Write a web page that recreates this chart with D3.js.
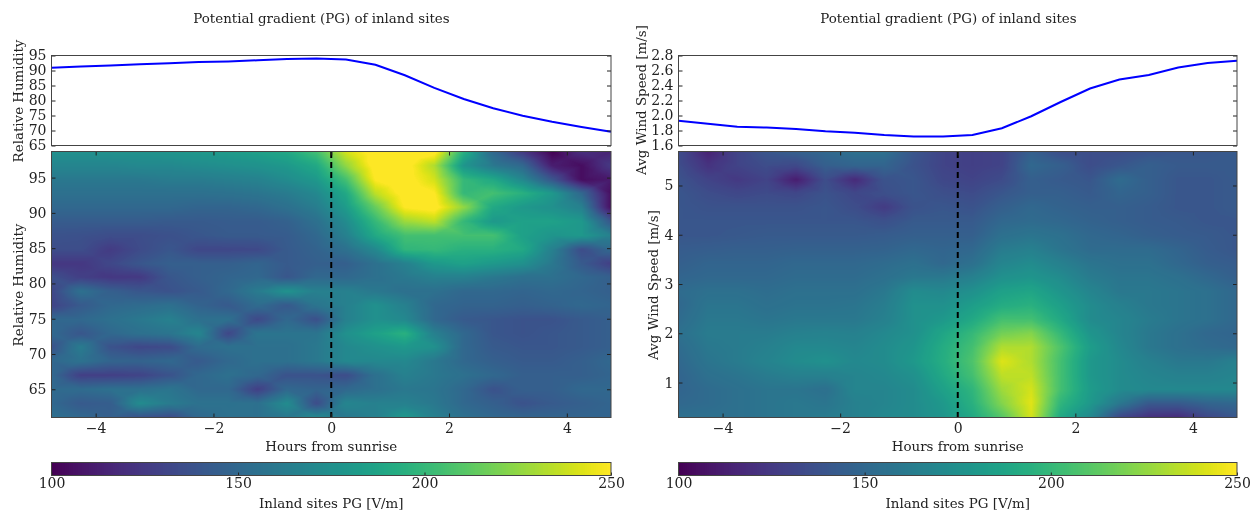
<!DOCTYPE html>
<html>
<head>
<meta charset="utf-8">
<script src="https://cdn.jsdelivr.net/npm/d3@7"></script>
<style>
  body { margin: 0; background: #fff; }
  #chart { position: relative; width: 1256px; height: 512px; }
  canvas, svg { position: absolute; left: 0; top: 0; }
  canvas { filter: blur(0.7px); }
  text { font-family: "DejaVu Serif", serif; fill: #222; }
  .tick text { font-size: 14px; }
  .label { font-size: 13.4px; }
</style>
</head>
<body>
<div id="chart"></div>
<script>
const hours = [-4.75, -4.25, -3.75, -3.25, -2.75, -2.25, -1.75, -1.25, -0.75, -0.25, 0.25, 0.75, 1.25, 1.75, 2.25, 2.75, 3.25, 3.75, 4.25, 4.75];

const rhLine = [90.9, 91.3, 91.7, 92.1, 92.4, 92.8, 93.0, 93.4, 93.8, 94.0, 93.7, 91.9, 88.4, 84.2, 80.5, 77.4, 74.9, 72.9, 71.2, 69.6];
const windLine = [1.93, 1.89, 1.85, 1.84, 1.82, 1.79, 1.77, 1.74, 1.72, 1.72, 1.74, 1.83, 1.99, 2.18, 2.36, 2.48, 2.54, 2.64, 2.70, 2.73];

const rhLevels = [98.7, 96.7, 94.7, 92.8, 90.8, 88.8, 86.8, 84.8, 82.8, 80.9, 78.9, 76.9, 74.9, 72.9, 71.0, 69.0, 67.0, 65.0, 63.0, 61.0];
const windLevels = [5.69, 5.41, 5.12, 4.84, 4.56, 4.27, 3.99, 3.70, 3.42, 3.14, 2.85, 2.57, 2.28, 2.00, 1.72, 1.43, 1.15, 0.86, 0.58, 0.29];

const rhGrid = [
  [175, 175, 176, 176, 178, 180, 182, 185, 190, 205, 240, 255, 255, 255, 195, 150, 125, 100, 120, 115],
  [168, 168, 168, 170, 170, 172, 174, 176, 180, 190, 225, 255, 255, 232, 178, 160, 150, 112, 105, 125],
  [160, 160, 160, 160, 162, 162, 164, 166, 172, 180, 205, 250, 255, 240, 200, 190, 170, 140, 105, 110],
  [155, 155, 155, 155, 155, 155, 156, 158, 162, 170, 190, 235, 255, 250, 200, 205, 195, 180, 150, 105],
  [150, 150, 150, 150, 150, 148, 148, 150, 155, 163, 182, 215, 250, 255, 225, 190, 180, 175, 165, 105],
  [143, 143, 143, 143, 142, 142, 143, 143, 146, 155, 172, 200, 228, 235, 200, 180, 185, 185, 180, 140],
  [138, 137, 135, 135, 137, 140, 142, 142, 143, 150, 165, 190, 205, 205, 205, 205, 185, 178, 180, 165],
  [135, 135, 126, 134, 140, 132, 132, 133, 142, 147, 155, 170, 198, 200, 195, 195, 190, 165, 135, 150],
  [124, 124, 132, 140, 145, 145, 145, 148, 142, 145, 145, 155, 165, 180, 185, 180, 175, 160, 142, 128],
  [136, 128, 124, 125, 140, 145, 148, 150, 140, 150, 150, 155, 160, 165, 165, 160, 155, 155, 150, 145],
  [132, 155, 145, 140, 138, 142, 150, 162, 176, 165, 165, 160, 155, 155, 150, 150, 148, 150, 148, 145],
  [130, 142, 150, 152, 155, 147, 142, 152, 142, 158, 165, 175, 165, 150, 147, 147, 145, 147, 150, 148],
  [150, 150, 155, 160, 165, 155, 155, 133, 150, 137, 165, 175, 170, 150, 142, 140, 138, 138, 142, 145],
  [150, 140, 150, 155, 158, 168, 132, 158, 158, 158, 175, 185, 195, 165, 150, 140, 138, 140, 142, 145],
  [138, 162, 138, 132, 134, 152, 155, 155, 155, 160, 170, 175, 180, 175, 150, 142, 140, 140, 142, 145],
  [150, 156, 148, 147, 150, 142, 150, 155, 155, 160, 170, 170, 170, 160, 150, 145, 142, 142, 145, 150],
  [150, 128, 128, 130, 138, 150, 155, 150, 138, 138, 135, 155, 165, 160, 155, 150, 145, 145, 145, 148],
  [152, 152, 155, 155, 158, 150, 150, 128, 150, 147, 150, 155, 160, 158, 150, 138, 145, 145, 150, 150],
  [150, 142, 144, 172, 162, 156, 156, 155, 172, 135, 168, 165, 165, 160, 150, 145, 138, 142, 145, 148],
  [155, 150, 145, 138, 134, 150, 155, 155, 160, 170, 160, 165, 180, 165, 155, 150, 148, 148, 148, 148]
];

const windGrid = [
  [135, 114, 130, 140, 145, 150, 155, 155, 140, 130, 128, 130, 145, 135, 135, 135, 138, 140, 140, 142],
  [135, 122, 130, 135, 133, 145, 148, 148, 138, 130, 128, 130, 150, 145, 135, 140, 145, 142, 142, 142],
  [138, 130, 125, 130, 112, 135, 118, 138, 140, 132, 130, 134, 145, 142, 140, 152, 145, 140, 140, 142],
  [140, 135, 132, 134, 132, 138, 132, 136, 140, 136, 134, 140, 145, 145, 142, 148, 145, 140, 140, 142],
  [140, 138, 138, 138, 138, 140, 135, 126, 138, 140, 138, 145, 150, 147, 145, 145, 143, 140, 140, 142],
  [140, 140, 140, 140, 140, 140, 140, 137, 142, 142, 142, 150, 152, 150, 147, 145, 143, 142, 140, 140],
  [140, 140, 141, 142, 142, 142, 142, 143, 145, 145, 145, 155, 158, 155, 150, 148, 145, 143, 142, 140],
  [143, 144, 145, 145, 146, 146, 146, 147, 150, 148, 150, 162, 165, 158, 152, 152, 152, 148, 143, 140],
  [145, 148, 148, 148, 150, 150, 150, 152, 155, 150, 155, 168, 172, 165, 158, 155, 155, 150, 145, 143],
  [148, 150, 150, 150, 152, 152, 152, 155, 160, 160, 165, 175, 178, 172, 162, 158, 158, 155, 150, 145],
  [152, 155, 155, 153, 155, 155, 155, 160, 172, 170, 175, 185, 188, 178, 168, 160, 160, 158, 155, 150],
  [150, 158, 158, 155, 157, 157, 158, 163, 175, 175, 183, 192, 195, 184, 172, 165, 160, 158, 155, 150],
  [152, 160, 160, 158, 160, 160, 160, 165, 175, 180, 190, 205, 205, 190, 172, 168, 162, 158, 155, 150],
  [155, 162, 162, 162, 165, 166, 165, 170, 175, 188, 200, 218, 222, 200, 178, 168, 160, 155, 150, 148],
  [152, 160, 162, 165, 170, 170, 168, 172, 178, 192, 205, 232, 232, 208, 183, 170, 160, 155, 152, 150],
  [150, 158, 162, 167, 172, 175, 170, 172, 180, 193, 208, 242, 232, 205, 180, 172, 165, 160, 160, 165],
  [148, 155, 158, 162, 165, 165, 168, 170, 175, 190, 205, 235, 235, 205, 180, 172, 168, 165, 165, 168],
  [148, 152, 155, 158, 158, 155, 168, 168, 172, 185, 198, 228, 240, 205, 182, 172, 170, 170, 170, 170],
  [150, 152, 155, 158, 160, 158, 165, 168, 172, 180, 195, 222, 243, 198, 180, 160, 142, 142, 148, 150],
  [155, 155, 155, 158, 160, 162, 165, 170, 172, 178, 190, 210, 240, 190, 170, 132, 120, 118, 132, 140]
];

const rhTicksTop = [65, 70, 75, 80, 85, 90, 95];
const rhTicksMain = [65, 70, 75, 80, 85, 90, 95];
const windTicksTop = [1.6, 1.8, 2.0, 2.2, 2.4, 2.6, 2.8];
const windTicksMain = [1, 2, 3, 4, 5];
const hourTicks = [-4, -2, 0, 2, 4];
const cbarTicks = [100, 150, 200, 250];

const W = 1256, H = 512;
const chart = d3.select("#chart");
const canvas = chart.append("canvas").attr("width", W).attr("height", H);
const ctx = canvas.node().getContext("2d");
const svg = chart.append("svg").attr("width", W).attr("height", H);

const color = d3.scaleSequential(d3.interpolateViridis).domain([100, 250]).clamp(true);

// same split as a gouraud mesh: each cell is four triangles around its centre
function sampleGrid(grid, fx, fy) {
  const i = Math.min(Math.floor(fx), hours.length - 2);
  const j = Math.min(Math.floor(fy), grid.length - 2);
  const u = fx - i, v = fy - j;
  const a = grid[j][i], b = grid[j][i + 1], c = grid[j + 1][i + 1], d = grid[j + 1][i];
  const m = (a + b + c + d) / 4;
  const du = u - 0.5, dv = v - 0.5;
  if (Math.abs(dv) > Math.abs(du)) {
    const p = dv < 0 ? [a, b] : [d, c];
    const t = Math.abs(dv) * 2;
    return m * (1 - t) + t * (p[0] * (0.5 - du / (2 * Math.abs(dv))) + p[1] * (0.5 + du / (2 * Math.abs(dv))));
  }
  const p = du < 0 ? [a, d] : [b, c];
  const t = Math.abs(du) * 2;
  if (t === 0) return m;
  return m * (1 - t) + t * (p[0] * (0.5 - dv / (2 * Math.abs(du))) + p[1] * (0.5 + dv / (2 * Math.abs(du))));
}

function addLabel(x, y, text, rotate) {
  const t = svg.append("text").attr("class", "label").attr("text-anchor", "middle").text(text);
  if (rotate) t.attr("transform", `translate(${x},${y}) rotate(-90)`);
  else t.attr("x", x).attr("y", y);
}

function frame(g, w, h) {
  g.append("rect").attr("width", w).attr("height", h)
    .attr("fill", "none").attr("stroke", "#444").attr("stroke-width", 1);
}

function styleAxis(sel) {
  sel.select(".domain").remove();
  sel.selectAll("line").attr("stroke", "#222");
}

function drawPanel(p) {
  const x = d3.scaleLinear().domain([-4.75, 4.75]).range([p.left, p.right]);

  // top line panel
  const yTop = d3.scaleLinear().domain(p.topDomain).range([145.5, 55.5]);
  const top = svg.append("g");
  top.append("path").datum(p.line)
    .attr("fill", "none").attr("stroke", "#0000ff").attr("stroke-width", 2)
    .attr("d", d3.line().x((d, i) => x(hours[i])).y(d => yTop(d)));
  top.append("g").attr("transform", `translate(${p.left},0)`)
    .call(d3.axisLeft(yTop).tickValues(p.topTicks).tickSize(-4).tickSizeOuter(0).tickPadding(5).tickFormat(p.topFormat))
    .call(styleAxis);
  top.append("g").attr("transform", `translate(${p.right},0)`)
    .call(d3.axisRight(yTop).tickValues(p.topTicks).tickSize(-4).tickSizeOuter(0).tickFormat(""))
    .call(styleAxis);
  frame(top.append("g").attr("transform", `translate(${p.left},55.5)`), p.right - p.left, 90);

  // heatmap
  const yMain = d3.scaleLinear().domain(p.mainDomain).range([417.5, 151.5]);
  const col = d3.scaleLinear().domain(hours).range(d3.range(hours.length));
  const row = d3.scaleLinear().domain(p.levels).range(d3.range(p.levels.length));
  for (let px = Math.round(p.left); px < p.right; px++) {
    const fx = col(x.invert(px + 0.5));
    for (let py = 152; py < 418; py++) {
      const fy = row(yMain.invert(py + 0.5));
      ctx.fillStyle = color(sampleGrid(p.grid, Math.max(fx, 0), Math.max(fy, 0)));
      ctx.fillRect(px, py, 1, 1);
    }
  }

  const main = svg.append("g");
  main.append("line")
    .attr("x1", x(0)).attr("x2", x(0)).attr("y1", 152).attr("y2", 417)
    .attr("stroke", "#000").attr("stroke-width", 2).attr("stroke-dasharray", "6,4");
  main.append("g").attr("transform", "translate(0,417.5)")
    .call(d3.axisBottom(x).tickValues(hourTicks).tickSize(-4).tickSizeOuter(0).tickPadding(6))
    .call(styleAxis);
  main.append("g").attr("transform", "translate(0,151.5)")
    .call(d3.axisTop(x).tickValues(hourTicks).tickSize(-4).tickSizeOuter(0).tickFormat(""))
    .call(styleAxis);
  main.append("g").attr("transform", `translate(${p.left},0)`)
    .call(d3.axisLeft(yMain).tickValues(p.mainTicks).tickSize(-4).tickSizeOuter(0).tickPadding(5).tickFormat(d3.format("d")))
    .call(styleAxis);
  main.append("g").attr("transform", `translate(${p.right},0)`)
    .call(d3.axisRight(yMain).tickValues(p.mainTicks).tickSize(-4).tickSizeOuter(0).tickFormat(""))
    .call(styleAxis);
  frame(main.append("g").attr("transform", `translate(${p.left},151.5)`), p.right - p.left, 266);

  // colorbar
  const cx = d3.scaleLinear().domain([100, 250]).range([p.left, p.right]);
  for (let px = Math.round(p.left); px < p.right; px++) {
    ctx.fillStyle = color(cx.invert(px + 0.5));
    ctx.fillRect(px, 462, 1, 13);
  }
  const cb = svg.append("g");
  cb.append("g").attr("transform", "translate(0,475.5)")
    .call(d3.axisBottom(cx).tickValues(cbarTicks).tickSize(-3).tickSizeOuter(0).tickPadding(3).tickFormat(d3.format("d")))
    .call(styleAxis);
  frame(cb.append("g").attr("transform", `translate(${p.left},462.5)`), p.right - p.left, 13);

  const mid = (p.left + p.right) / 2;
  addLabel(p.titleX, 23, "Potential gradient (PG) of inland sites");
  addLabel(mid, 451, "Hours from sunrise");
  addLabel(mid, 508, "Inland sites PG [V/m]");
  addLabel(p.topLabelX, p.topLabelY, p.label, true);
  addLabel(p.mainLabelX, 285, p.label, true);
}

drawPanel({
  left: 51.5, right: 611, line: rhLine, grid: rhGrid, levels: rhLevels,
  topDomain: [65, 95], topTicks: rhTicksTop, topFormat: d3.format("d"),
  mainDomain: [61, 98.7], mainTicks: rhTicksMain,
  label: "Relative Humidity", titleX: 321.5,
  topLabelX: 23, topLabelY: 101, mainLabelX: 23
});

drawPanel({
  left: 678.5, right: 1237, line: windLine, grid: windGrid, levels: windLevels,
  topDomain: [1.6, 2.8], topTicks: windTicksTop, topFormat: d3.format(".1f"),
  mainDomain: [0.29, 5.69], mainTicks: windTicksMain,
  label: "Avg Wind Speed [m/s]", titleX: 948.5,
  topLabelX: 646, topLabelY: 100, mainLabelX: 658
});
</script>
</body>
</html>
